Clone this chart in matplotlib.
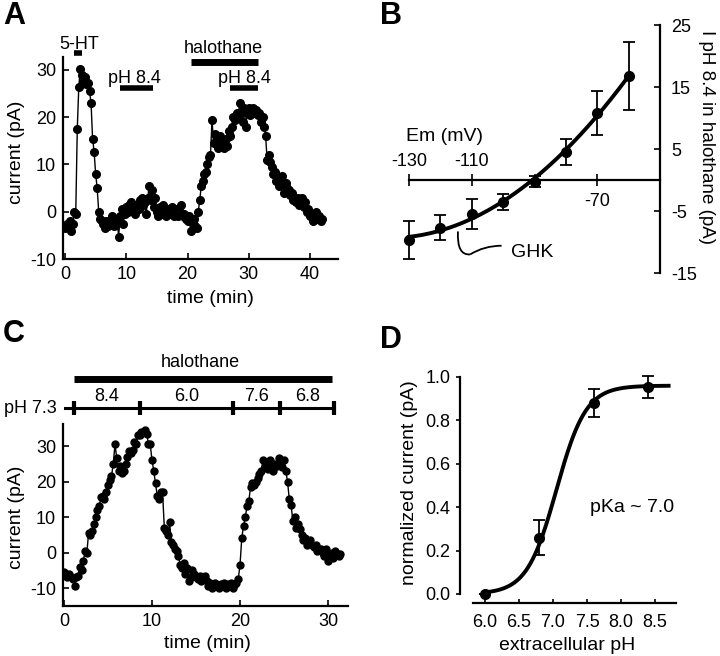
import numpy as np
import matplotlib
matplotlib.use("Agg")
import matplotlib.pyplot as plt
from matplotlib.path import Path
from matplotlib.patches import PathPatch

plt.rcParams['font.family'] = ['Liberation Sans', 'DejaVu Sans']
plt.rcParams['font.size'] = 13
plt.rcParams['axes.unicode_minus'] = False

# ---------------- data ----------------
# Panel A: current trace (pA), sampled every 0.25 min from 0 to 42 min
a_dt = 0.25
a_current = [
    -3.5, -2.5, -3.0, -2.0, -4.0, -2.5, 0.0, -0.5, 17.5, 26.5, 30.3, 29.0, 27.5, 28.5, 27.0, 27.3,
    25.5, 23.0, 15.5, 12.7, 8.0, 5.0, 0.0, -1.5, -2.0, -2.5, -3.5, -2.0, -3.0, -2.0, -2.5, -1.0,
    -3.0, -2.0, -1.5, -5.3, -1.0, 0.5, -2.5, -0.5, 1.0, 0.0, 1.5, 2.0, 0.5, 1.5, -0.5, 1.0,
    0.5, 2.5, 3.0, 1.5, 2.0, -0.5, 3.0, 5.5, 2.5, 4.5, 1.0, 3.0, 0.0, -1.0, 1.0, -0.5,
    1.5, 0.0, -1.0, 0.5, -0.5, 0.0, 1.0, -1.0, -0.5, 0.5, -1.0, 0.0, 1.5, -1.0, -0.5, -1.5,
    -2.0, -1.0, -4.0, -2.0, -1.5, -3.0, -3.5, 0.0, 2.5, 5.5, 6.5, 8.0, 8.5, 10.0, 11.5, 12.0,
    19.5, 14.5, 16.5, 15.0, 13.5, 16.0, 14.5, 15.0, 13.5, 15.5, 14.0, 17.0, 16.0, 18.0, 20.0, 19.5,
    21.0, 20.0, 23.0, 21.0, 19.0, 22.0, 18.0, 21.0, 22.0, 20.5, 21.5, 22.0, 21.0, 21.5, 20.5, 21.0,
    19.0, 20.0, 18.0, 16.0, 11.0, 12.0, 10.5, 9.5, 8.0, 8.5, 6.5, 7.0, 5.5, 6.0, 7.5, 4.0,
    6.0, 5.0, 4.5, 3.5, 4.0, 2.5, 3.0, 2.0, 3.0, 1.5, 2.5, 3.0, 1.0, 2.0, 0.0, 0.5,
    -1.0, -0.5, -2.0, -1.0, 0.0, -1.5, -1.0, -2.0, -1.5,
]
a_5ht = (1.5, 2.7)
a_halothane = (20.5, 31.5)
a_ph84 = [(9.0, 14.3), (27.0, 31.5)]

# Panel B: I-V relation
b_em = [-130, -120, -110, -100, -90, -80, -70, -60]
b_current = [-9.7, -7.7, -5.5, -3.6, -0.3, 4.5, 10.8, 16.8]
b_err = [3.1, 2.0, 2.4, 1.3, 0.9, 2.1, 3.6, 5.5]

# Panel C: current trace (pA), sampled every 0.2 min
c_dt = 0.2
c_current = [
    -5.5, -6.5, -7.0, -6.0, -7.0, -7.5, -9.5, -7.0, -6.5, -4.0, -5.0, -2.5, 0.5, 0.0, 5.5, 5.0,
    6.0, 8.0, 10.0, 12.0, 13.0, 15.5, 16.0, 15.0, 17.0, 19.0, 20.5, 21.5, 25.0, 30.5, 26.5, 23.0,
    24.5, 22.5, 23.0, 25.0, 27.0, 28.5, 28.0, 29.0, 31.0, 30.5, 33.0, 33.0, 34.0, 34.0, 34.5, 33.5,
    30.5, 30.5, 26.0, 23.0, 19.5, 16.0, 15.0, 17.0, 17.0, 7.0, 6.0, 5.0, 8.5, 3.0, 2.0, 1.0,
    0.5, -1.0, -3.5, -4.5, -3.0, -6.0, -4.5, -8.0, -7.0, -5.0, -6.0, -7.0, -7.5, -6.5, -8.0, -7.5,
    -6.5, -8.0, -9.5, -8.5, -10.0, -9.0, -8.5, -9.5, -10.0, -9.0, -9.5, -8.5, -10.0, -9.0, -9.5, -8.5,
    -10.0, -9.0, -8.5, -7.5, -3.5, 4.0, 7.5, 10.0, 13.0, 14.5, 18.5, 19.5, 19.0, 20.0, 21.0, 22.0,
    23.0, 26.0, 24.0, 25.5, 23.5, 26.0, 24.0, 23.0, 25.0, 24.5, 26.5, 25.0, 24.0, 26.0, 23.0, 20.0,
    15.0, 13.5, 9.0, 10.0, 7.0, 8.0, 6.5, 5.0, 3.5, 4.0, 2.0, 3.0, 3.5, 2.0, 1.5, 2.0,
    0.5, 1.0, 1.0, 0.0, -1.0, 1.0, -2.5, -1.0, 0.0, -1.5, 0.5, -0.5, -1.0, -0.5,
]
c_halothane = (1.1, 30.5)
c_ph_bounds = [1.1, 8.6, 19.2, 24.6, 30.7]
c_ph_start = 0.1
c_ph_labels = ["8.4", "6.0", "7.6", "6.8"]

# Panel D: pH dependence
d_ph = [6.0, 6.8, 7.6, 8.4]
d_current = [0.0, 0.26, 0.88, 0.955]
d_err = [0.0, 0.08, 0.065, 0.05]
d_pka = 7.05
d_hill = 2.0
d_max = 0.96

# ---------------- figure ----------------
W, H = 720, 656
fig = plt.figure(figsize=(W / 100, H / 100), dpi=100)

TICK_FS = 13
LAB_FS = 14


def add_ax(l, t, r, b):
    return fig.add_axes([l / W, 1 - b / H, (r - l) / W, (b - t) / H])


def ftext(x, y, s, **kw):
    fig.text(x / W, 1 - y / H, s, **kw)


LW_AX = 1.6

# ---------- Panel A ----------
axA = add_ax(63, 57, 338, 259)
tA = np.arange(len(a_current)) * a_dt
axA.plot(tA, a_current, '-', color='black', lw=1.0, marker='o', ms=5.5, mfc='black', mec='black')
axA.set_xlim(-0.33, 44.57)
axA.set_ylim(-10, 32.75)
axA.set_xticks([0, 10, 20, 30, 40])
axA.set_yticks([-10, 0, 10, 20, 30])
for s in ['top', 'right']:
    axA.spines[s].set_visible(False)
for s in ['left', 'bottom']:
    axA.spines[s].set_linewidth(LW_AX)
axA.tick_params(direction='in', length=4, width=1.2, labelsize=TICK_FS, pad=5)
axA.plot(a_5ht, [33.6, 33.6], color='black', lw=4, solid_capstyle='butt', clip_on=False)
axA.plot(a_halothane, [31.7, 31.7], color='black', lw=5, solid_capstyle='butt', clip_on=False)
for seg in a_ph84:
    axA.plot(seg, [26.2, 26.2], color='black', lw=4, solid_capstyle='butt', clip_on=False)
axA.text(sum(a_5ht) / 2 + 0.2, 35.5, "5-HT", ha='center', va='center', fontsize=TICK_FS)
axA.text(sum(a_halothane) / 2 - 0.2, 34.6, "halothane", ha='center', va='center', fontsize=TICK_FS)
axA.text(11.4, 28.3, "pH 8.4", ha='center', va='center', fontsize=TICK_FS)
axA.text(29.3, 28.3, "pH 8.4", ha='center', va='center', fontsize=TICK_FS)
ftext(17, 152, "current (pA)", rotation=90, ha='center', va='center', fontsize=LAB_FS)
ftext(210, 298, "time (min)", ha='center', va='center', fontsize=LAB_FS)
ftext(3, 16, "A", fontsize=22, fontweight='bold', ha='left', va='center')

# ---------- Panel B ----------
axB = add_ax(409, 25, 660, 273)
coef = np.polyfit(b_em, b_current, 2)
xfit = np.linspace(b_em[0], b_em[-1], 200)
axB.plot(xfit, np.polyval(coef, xfit), color='black', lw=2.8, clip_on=False)
eb = axB.errorbar(b_em, b_current, yerr=b_err, fmt='o', color='black', ms=7, capsize=4,
                  elinewidth=1.3, capthick=1.3)
for art in eb.lines[0:1] + tuple(eb.lines[1]) + tuple(eb.lines[2]):
    art.set_clip_on(False)
axB.set_xlim(-130, -50)
axB.set_ylim(-15, 25)
axB.spines['left'].set_visible(False)
axB.spines['top'].set_visible(False)
axB.spines['bottom'].set_position(('data', 0))
axB.spines['bottom'].set_linewidth(LW_AX)
axB.spines['right'].set_linewidth(LW_AX)
axB.yaxis.tick_right()
axB.set_yticks([-15, -5, 5, 15, 25])
axB.tick_params(axis='y', direction='in', length=4, width=1.2, labelsize=TICK_FS, pad=8)
axB.set_xticks([-130, -110, -90, -70])
axB.set_xticklabels([])
axB.tick_params(axis='x', direction='inout', length=8, width=1.2)
axB.text(-130, 3.0, "-130", ha='center', va='center', fontsize=TICK_FS)
axB.text(-110, 3.0, "-110", ha='center', va='center', fontsize=TICK_FS)
axB.text(-70, -3.5, "-70", ha='center', va='center', fontsize=TICK_FS)
axB.text(-131, 7.0, "Em (mV)", ha='left', va='center', fontsize=LAB_FS)
axB.add_patch(PathPatch(Path([(-114.4, -8.3), (-114.8, -12.2), (-110.5, -12.0)],
                             [Path.MOVETO, Path.CURVE3, Path.CURVE3]),
                        fill=False, lw=1.3, color='black', clip_on=False))
axB.add_patch(PathPatch(Path([(-110.5, -12.0), (-106.0, -10.6), (-100.5, -10.6)],
                             [Path.MOVETO, Path.CURVE3, Path.CURVE3]),
                        fill=False, lw=1.3, color='black', clip_on=False))
axB.text(-97.5, -11.7, "GHK", ha='left', va='center', fontsize=LAB_FS)
ftext(707, 137, "I pH 8.4 in halothane (pA)", rotation=-90, ha='center', va='center', fontsize=13.5)
ftext(380, 16, "B", fontsize=22, fontweight='bold', ha='left', va='center')

# ---------- Panel C ----------
axC = add_ax(63, 424, 348, 606)
tC = np.arange(len(c_current)) * c_dt
axC.plot(tC, c_current, '-', color='black', lw=1.0, marker='o', ms=5, mfc='black', mec='black')
axC.set_xlim(-0.11, 32.27)
axC.set_ylim(-15.07, 36.2)
axC.set_xticks([0, 10, 20, 30])
axC.set_yticks([-10, 0, 10, 20, 30])
for s in ['top', 'right']:
    axC.spines[s].set_visible(False)
for s in ['left', 'bottom']:
    axC.spines[s].set_linewidth(LW_AX)
axC.tick_params(direction='in', length=4, width=1.2, labelsize=TICK_FS, pad=5)
axC.plot(c_halothane, [48.9, 48.9], color='black', lw=5, solid_capstyle='butt', clip_on=False)
axC.text(15.5, 53.4, "halothane", ha='center', va='center', fontsize=TICK_FS)
axC.plot([c_ph_start, c_ph_bounds[-1]], [40.7, 40.7], color='black', lw=2.2, clip_on=False)
axC.plot(c_ph_bounds, [40.7] * len(c_ph_bounds), ls='none', marker='|', ms=10, mew=3,
         color='black', clip_on=False)
for i, lab in enumerate(c_ph_labels):
    axC.text((c_ph_bounds[i] + c_ph_bounds[i + 1]) / 2, 43.9, lab, ha='center', va='center', fontsize=TICK_FS)
axC.text(-0.8, 40.7, "pH 7.3", ha='right', va='center', fontsize=TICK_FS)
ftext(17, 517, "current (pA)", rotation=90, ha='center', va='center', fontsize=LAB_FS)
ftext(207, 643, "time (min)", ha='center', va='center', fontsize=LAB_FS)
ftext(3, 334, "C", fontsize=22, fontweight='bold', ha='left', va='center')

# ---------- Panel D ----------
axD = add_ax(460, 372, 676, 603)
xs = np.linspace(d_ph[0], 8.7, 300)
axD.plot(xs, d_max / (1 + 10 ** (d_hill * (d_pka - xs))), color='black', lw=2.8)
axD.errorbar(d_ph, d_current, yerr=d_err, fmt='o', color='black', ms=7, capsize=4,
             elinewidth=1.3, capthick=1.3)
axD.set_xlim(5.632, 8.809)
axD.set_ylim(-0.0415, 1.023)
axD.spines['top'].set_visible(False)
axD.spines['right'].set_visible(False)
axD.spines['left'].set_bounds(0, 1.0)
axD.spines['bottom'].set_bounds(5.82, 8.809)
axD.spines['left'].set_linewidth(LW_AX)
axD.spines['bottom'].set_linewidth(LW_AX)
axD.set_yticks([0.0, 0.2, 0.4, 0.6, 0.8, 1.0])
axD.set_yticklabels(["0.0", "0.2", "0.4", "0.6", "0.8", "1.0"])
axD.set_xticks([6.0, 6.5, 7.0, 7.5, 8.0, 8.5])
axD.set_xticklabels(["6.0", "6.5", "7.0", "7.5", "8.0", "8.5"])
axD.tick_params(axis='y', direction='out', length=3, width=1.2, labelsize=TICK_FS, pad=4)
axD.tick_params(axis='x', direction='in', length=3, width=1.2, labelsize=TICK_FS, pad=8)
axD.text(8.16, 0.40, "pKa ~ 7.0", ha='center', va='center', fontsize=LAB_FS)
ftext(410, 483, "normalized current (pA)", rotation=90, ha='center', va='center', fontsize=LAB_FS)
ftext(567, 645, "extracellular pH", ha='center', va='center', fontsize=LAB_FS)
ftext(380, 340, "D", fontsize=22, fontweight='bold', ha='left', va='center')

fig.savefig("out.png", dpi=100)
